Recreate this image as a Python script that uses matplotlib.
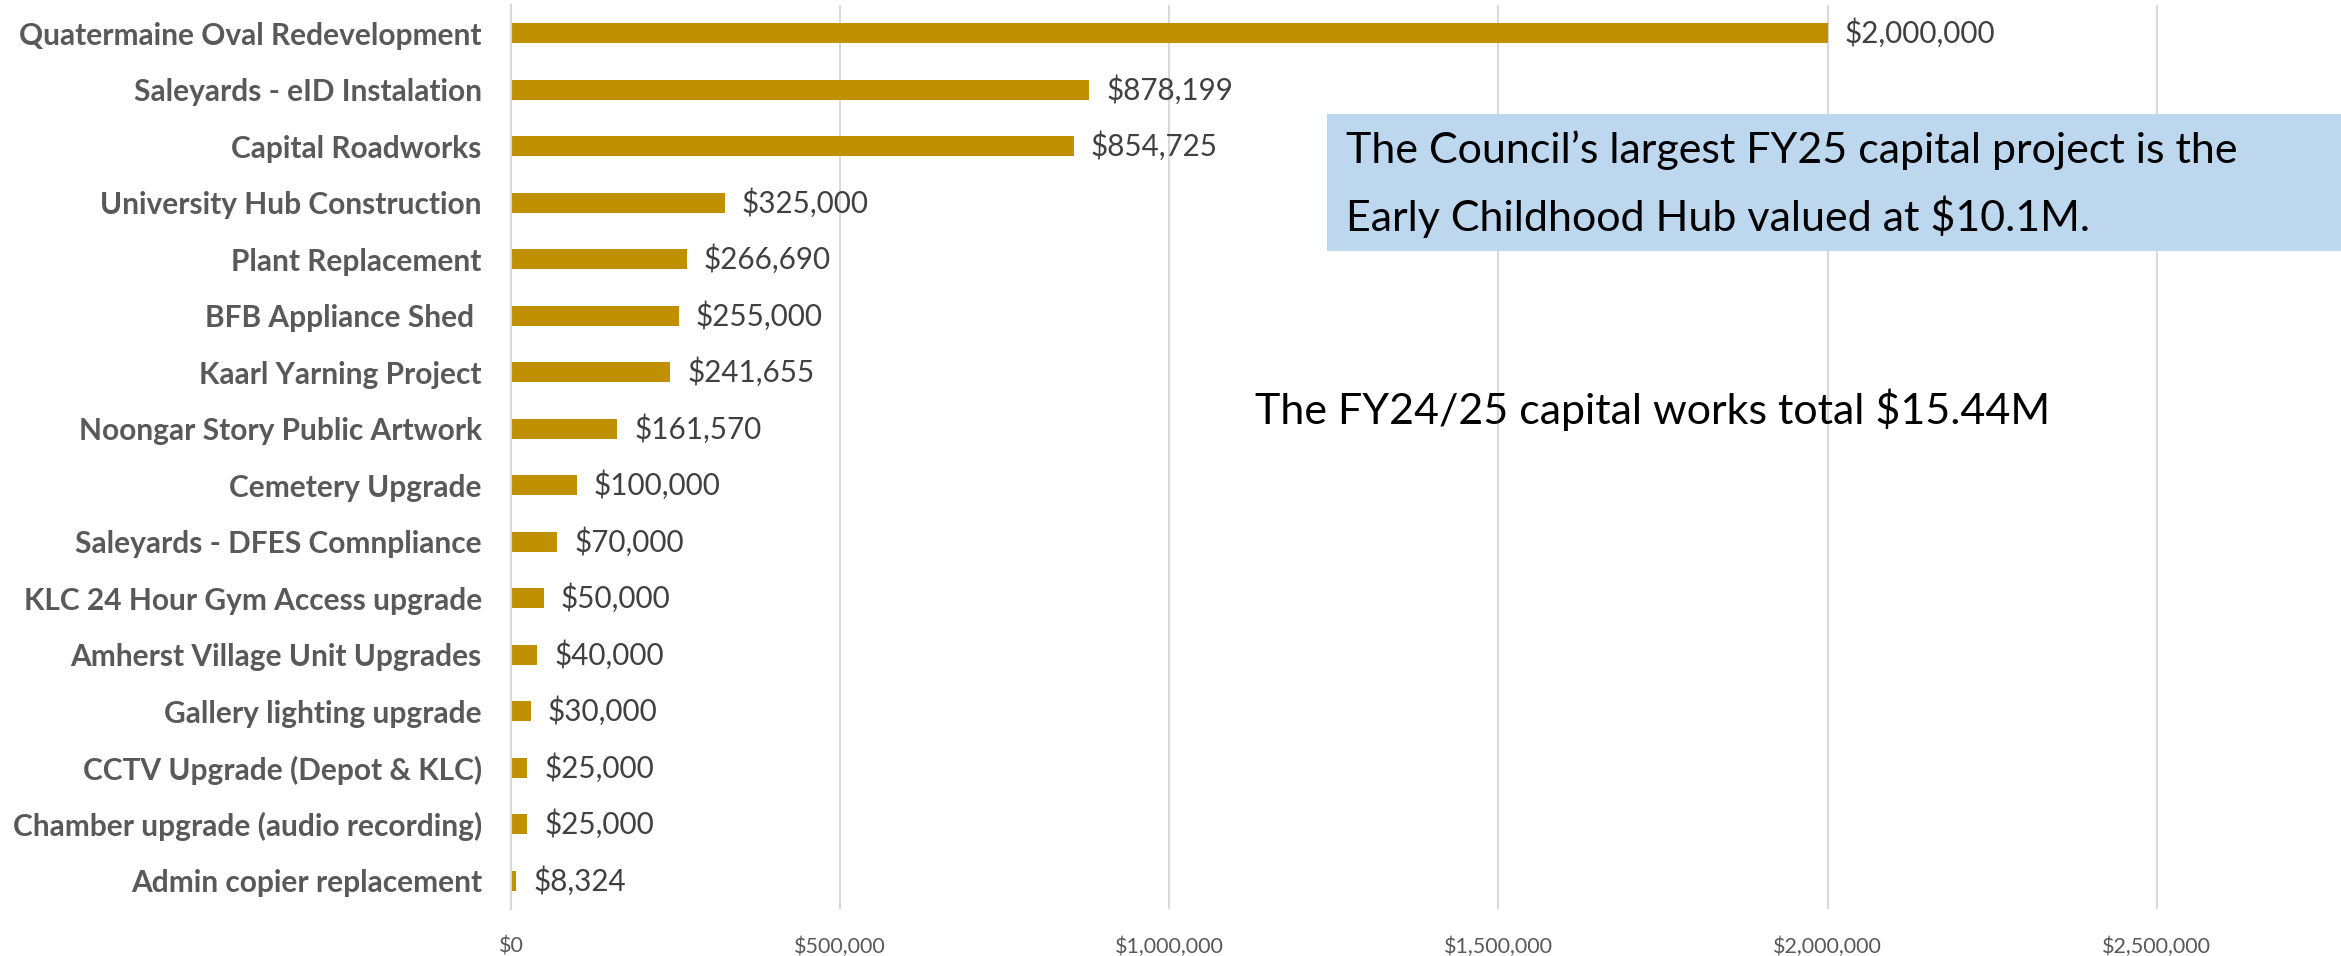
import matplotlib
matplotlib.use("Agg")
import matplotlib.pyplot as plt
from matplotlib.ticker import FuncFormatter
from matplotlib.patches import Rectangle

projects = [
    "Quatermaine Oval Redevelopment",
    "Saleyards - eID Instalation",
    "Capital Roadworks",
    "University Hub Construction",
    "Plant Replacement",
    "BFB Appliance Shed ",
    "Kaarl Yarning Project",
    "Noongar Story Public Artwork",
    "Cemetery Upgrade",
    "Saleyards - DFES Comnpliance",
    "KLC 24 Hour Gym Access upgrade",
    "Amherst Village Unit Upgrades",
    "Gallery lighting upgrade",
    "CCTV Upgrade (Depot & KLC)",
    "Chamber upgrade (audio recording)",
    "Admin copier replacement",
]
values = [2000000, 878199, 854725, 325000, 266690, 255000, 241655, 161570,
          100000, 70000, 50000, 40000, 30000, 25000, 25000, 8324]
xticks = [0, 500000, 1000000, 1500000, 2000000, 2500000]

FONT = "Lato"
plt.rcParams["font.family"] = [FONT, "DejaVu Sans"]

W, H = 2341, 956
fig = plt.figure(figsize=(W / 100, H / 100), dpi=100)
ax = fig.add_axes([511 / W, (H - 909) / H, (W - 511) / W, (909 - 5) / H])

ypos = list(range(len(projects)))
ax.barh(ypos, values, height=0.36, color="#BF9000", zorder=3)
ax.set_ylim(len(projects) - 0.5, -0.5)
ax.set_xlim(0, 2780000)
ax.set_yticks(ypos)
ax.set_yticklabels(projects, fontsize=21.5, fontweight="bold", color="#595959")
ax.set_xticks(xticks)
ax.xaxis.set_major_formatter(FuncFormatter(lambda v, p: f"${v:,.0f}"))
ax.tick_params(axis="x", labelsize=15.5, colors="#595959", length=0, pad=20)
ax.tick_params(axis="y", length=0, pad=21)
ax.grid(axis="x", color="#D9D9D9", linewidth=1.5, zorder=0)
for s in ["top", "right", "bottom"]:
    ax.spines[s].set_visible(False)
ax.spines["left"].set_color("#D9D9D9")
ax.spines["left"].set_linewidth(1.5)
ax.spines["left"].set_zorder(4)

for y, v in zip(ypos, values):
    ax.annotate(f"${v:,.0f}", (v, y), xytext=(17, 0), textcoords="offset pixels",
                va="center", ha="left", fontsize=21.3, color="#404040")

# annotation box
fig.patches.append(Rectangle((1327 / W, (H - 251) / H), (W - 1327) / W, (251 - 114) / H,
                             transform=fig.transFigure, facecolor="#BDD7EE",
                             edgecolor="none", zorder=5))
fig.text(1346 / W, 1 - 150 / H, "The Council\u2019s largest FY25 capital project is the",
         fontsize=31, color="black", va="center", ha="left", zorder=6)
fig.text(1346 / W, 1 - 217 / H, "Early Childhood Hub valued at $10.1M.",
         fontsize=31, color="black", va="center", ha="left", zorder=6)
fig.text(1653 / W, 1 - 410 / H, "The FY24/25 capital works total $15.44M",
         fontsize=31, color="black", va="center", ha="center", zorder=6)

fig.savefig("out.png", dpi=100, facecolor="white")
